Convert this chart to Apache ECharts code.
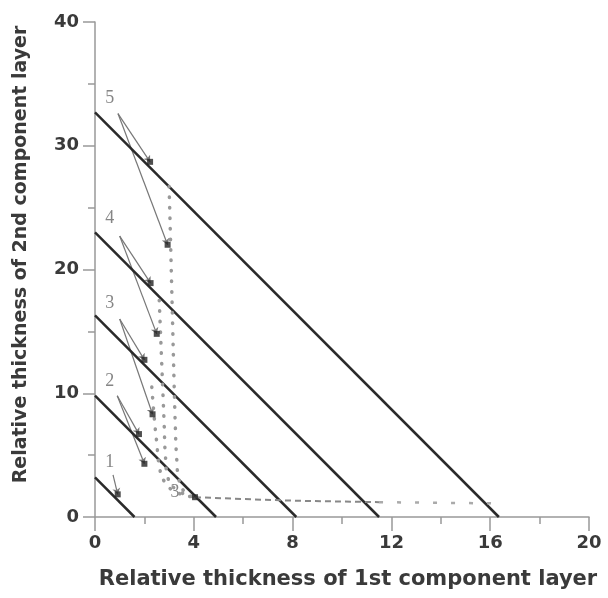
<!DOCTYPE html>
<html lang="en">
<head>
    <meta charset="UTF-8">
    <title>Relative thickness</title>
    <style>
      * { padding: 0; margin: 0; }
      body { background: #fff; }
    </style>
</head>
<body>
    <div id="main" style="width: 608px;height:598px;"></div>
    <script src="https://cdn.jsdelivr.net/npm/echarts@6/dist/echarts.min.js"></script>
    <script>
        // solid lines: [y intercept, x intercept]
        var lineIntercepts = [[3.2, 1.6], [9.8, 4.9], [16.3, 8.15], [23.0, 11.5], [32.7, 16.35]];
        // curve labels 1..5 and the small "3" near the bottom
        var labelNames = ['1', '2', '3', '4', '5'];
        var labelPos = [[0.6, 4.4], [0.6, 11.0], [0.6, 17.3], [0.6, 24.1], [0.6, 33.8]];
        var arrowStart = [[0.73, 3.4], [0.9, 9.8], [1.0, 16.0], [1.0, 22.7], [0.93, 32.6]];
        // points the arrows point to (on the line, and below it)
        var pointsOnLine = [[0.92, 1.83], [1.78, 6.7], [2.0, 12.7], [2.25, 18.9], [2.23, 28.7]];
        var pointsBelow = [null, [2.0, 4.3], [2.33, 8.3], [2.5, 14.8], [2.94, 22.0]];
        var bottomPoint = [4.05, 1.6];
        // dotted curves
        var curveOuter = [[3.0, 26.7], [3.05, 23], [3.1, 19], [3.15, 15], [3.2, 11], [3.25, 7.5], [3.3, 5], [3.4, 3], [3.65, 2], [4.05, 1.6]];
        var curveMid = [[2.6, 17.5], [2.65, 15], [2.7, 12.5], [2.75, 10], [2.8, 7.5], [2.85, 5], [2.95, 3.2], [3.3, 2.2], [4.05, 1.6]];
        var curveInner = [[2.3, 10.5], [2.4, 8], [2.5, 6], [2.6, 4.2], [2.8, 2.9], [3.3, 2.0], [4.05, 1.6]];
        var bottomDash = [[4.05, 1.6], [6, 1.45], [8, 1.32], [11.5, 1.2]];
        var bottomDots = [[11.5, 1.2], [16.3, 1.1]];

        var axisFont = { fontFamily: 'DejaVu Sans', fontWeight: 'bold', color: '#3a3a3a' };

        var series = [];
        lineIntercepts.forEach(function (p) {
            series.push({
                type: 'line', data: [[0, p[0]], [p[1], 0]], symbol: 'none',
                lineStyle: { color: '#2a2a2a', width: 2.5 }, z: 3
            });
        });
        [curveOuter, curveMid, curveInner].forEach(function (c) {
            series.push({
                type: 'line', data: c, symbol: 'none', smooth: true,
                lineStyle: { color: '#999', width: 3.5, type: [0.5, 10], cap: 'round' }
            });
        });
        series.push({
            type: 'line', data: bottomDash, symbol: 'none',
            lineStyle: { color: '#888', width: 2, type: [6, 4] }
        });
        series.push({
            type: 'line', data: bottomDots, symbol: 'none',
            lineStyle: { color: '#aaa', width: 2.5, type: [4, 14] }
        });
        // arrows
        var arrowData = [];
        for (var i = 0; i < 5; i++) {
            arrowData.push({ coords: [arrowStart[i], pointsOnLine[i]] });
            if (pointsBelow[i]) arrowData.push({ coords: [arrowStart[i], pointsBelow[i]] });
        }
        series.push({
            type: 'lines', coordinateSystem: 'cartesian2d', data: arrowData,
            symbol: ['none', 'arrow'], symbolSize: 6,
            lineStyle: { color: '#777', width: 1.2, opacity: 1 }
        });
        // markers
        var markers = pointsOnLine.concat(pointsBelow.filter(function (p) { return p; })).concat([bottomPoint]);
        series.push({
            type: 'scatter', data: markers, symbol: 'rect', symbolSize: 6,
            itemStyle: { color: '#222' }, z: 5
        });
        // labels
        var labelData = labelPos.map(function (p, i) { return { value: p, name: labelNames[i] }; });
        labelData.push({ value: [3.24, 2.0], name: '3' });
        series.push({
            type: 'scatter', data: labelData, symbolSize: 0,
            label: {
                show: true, position: 'inside', formatter: '{b}',
                fontFamily: 'Liberation Serif', fontSize: 18, color: '#666'
            }
        });

        var option = {
            animation: false,
            grid: { left: 95, right: 19, top: 22, bottom: 81 },
            xAxis: {
                type: 'value', min: 0, max: 20, interval: 4,
                name: 'Relative thickness of 1st component layer',
                nameLocation: 'middle', nameGap: 52,
                nameTextStyle: Object.assign({ fontSize: 21, padding: [0, 0, 0, 12] }, axisFont),
                axisLine: { onZero: false, lineStyle: { color: '#999', width: 1.5 } },
                axisTick: { length: 14, lineStyle: { color: '#999', width: 1.5 } },
                minorTick: { show: true, splitNumber: 2, length: 7, lineStyle: { color: '#999', width: 1.5 } },
                axisLabel: Object.assign({ fontSize: 18, margin: 17 }, axisFont),
                splitLine: { show: false }
            },
            yAxis: {
                type: 'value', min: 0, max: 40, interval: 10,
                name: 'Relative thickness of 2nd component layer',
                nameLocation: 'middle', nameGap: 64,
                nameTextStyle: Object.assign({ fontSize: 19, padding: [0, 0, 0, 30] }, axisFont),
                axisLine: { show: true, onZero: false, lineStyle: { color: '#999', width: 1.5 } },
                axisTick: { show: true, length: 12, lineStyle: { color: '#999', width: 1.5 } },
                minorTick: { show: true, splitNumber: 2, length: 7, lineStyle: { color: '#999', width: 1.5 } },
                axisLabel: Object.assign({ fontSize: 18, margin: 16 }, axisFont),
                splitLine: { show: false }
            },
            series: series
        };

        var myChart = echarts.init(document.getElementById('main'));
        myChart.setOption(option);
    </script>
</body>
</html>
